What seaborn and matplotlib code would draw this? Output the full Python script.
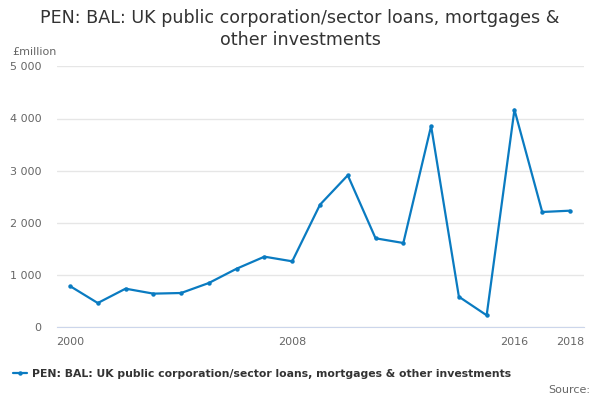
import matplotlib
matplotlib.use('Agg')
import matplotlib.pyplot as plt
import seaborn as sns
import pandas as pd
from matplotlib.ticker import FuncFormatter

# Data
years = list(range(2000, 2019))
values = [790, 465, 740, 645, 657, 849, 1123, 1353, 1264, 2349, 2912,
          1705, 1615, 3856, 586, 230, 4169, 2209, 2234]
series_name = 'PEN: BAL: UK public corporation/sector loans, mortgages & other investments'
title = 'PEN: BAL: UK public corporation/sector loans, mortgages &\nother investments'
x_ticks = list(range(2000, 2019, 2))
x_labels = ['2000', '', '', '', '2008', '', '', '', '2016', '2018']
y_ticks = [0, 1000, 2000, 3000, 4000, 5000]

df = pd.DataFrame({'year': years, 'value': values})

sns.set_style('white')
plt.rcParams['font.family'] = ['DejaVu Sans']

fig = plt.figure(figsize=(6, 4), dpi=100)
ax = fig.add_axes([57 / 600, (400 - 327.3) / 400, (584 - 57) / 600, (327.3 - 66.3) / 400])

blue = '#0a7bc1'
sns.lineplot(data=df, x='year', y='value', ax=ax, color=blue, linewidth=1.6,
             marker='o', markersize=3.2, markeredgewidth=0, label=series_name)

ax.set_xlim(1999.532, 2018.504)
ax.set_ylim(0, 5000)
ax.set_xticks(x_ticks)
ax.set_xticklabels(x_labels)
ax.set_yticks(y_ticks)
ax.yaxis.set_major_formatter(FuncFormatter(lambda v, p: f'{int(v):,}'.replace(',', ' ')))
ax.grid(axis='y', color='#e6e6e6', linewidth=1)
ax.set_axisbelow(True)
for s in ['top', 'right', 'left']:
    ax.spines[s].set_visible(False)
ax.spines['bottom'].set_color('#ccd6eb')
ax.tick_params(axis='x', length=6.5, color='#ccd6eb', labelsize=8, labelcolor='#666666', pad=0.5)
ax.tick_params(axis='y', length=0, labelsize=8, labelcolor='#666666', pad=11.4)
ax.set_xlabel('')
ax.set_ylabel('')

fig.text(0.5, 1 - 29 / 400, title, ha='center', va='center', fontsize=12.6,
         color='#333333', linespacing=1.25)
fig.text(12 / 600, 1 - 52 / 400, '£million', ha='left', va='center', fontsize=8, color='#666666')

ax.get_legend().remove()
fig.legend(*ax.get_legend_handles_labels(), loc='center left',
           bbox_to_anchor=(13 / 600, 1 - 374 / 400), frameon=False,
           borderpad=0, borderaxespad=0,
           handlelength=1.3, handletextpad=0.45, prop={'weight': 'bold', 'size': 7.8},
           labelcolor='#333333')
fig.text(590 / 600, 1 - 390 / 400, 'Source:', ha='right', va='center', fontsize=8, color='#666666')

fig.savefig('out.png', dpi=100)
